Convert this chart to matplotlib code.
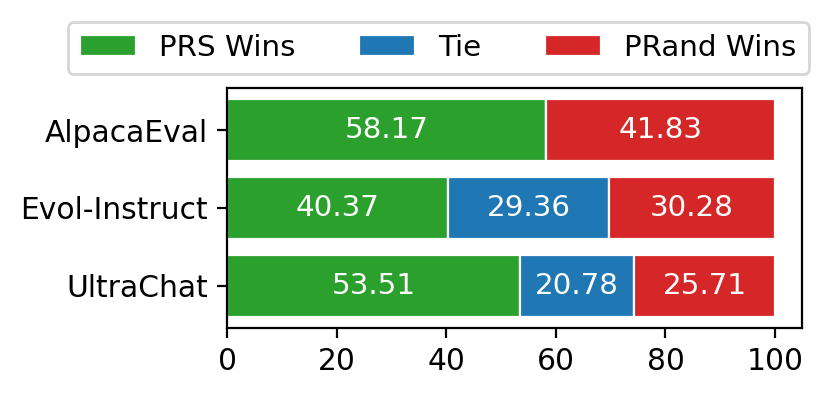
import matplotlib
matplotlib.use("Agg")
import matplotlib.pyplot as plt
import numpy as np

categories = ["UltraChat", "Evol-Instruct", "AlpacaEval"]
prs_wins = [53.51, 40.37, 58.17]
tie = [20.78, 29.36, 0.0]
prand_wins = [25.71, 30.28, 41.83]
xticks = [0, 20, 40, 60, 80, 100]

fig, ax = plt.subplots(figsize=(4.145, 1.995), dpi=200)
y = np.arange(len(categories))
left = np.zeros(len(categories))
series = [("PRS Wins", prs_wins, "#2ca02c"), ("Tie", tie, "#1f77b4"), ("PRand Wins", prand_wins, "#d62728")]
for name, vals, col in series:
    vals = np.array(vals)
    ax.barh(y, vals, left=left, color=col, edgecolor="white", linewidth=0.8, label=name, height=0.8)
    for yi, (l, v) in enumerate(zip(left, vals)):
        if v > 0:
            ax.text(l + v / 2, yi, f"{v:.2f}", ha="center", va="center", color="white", fontsize=10.6)
    left = left + vals

ax.set_yticks(y)
ax.set_yticklabels(categories, fontsize=10.7)
ax.set_xticks(xticks)
ax.tick_params(axis="x", labelsize=10.7)
ax.legend(loc="lower left", bbox_to_anchor=(-0.2765, 1.06, 1.287, 0.2), mode="expand",
          borderaxespad=0, ncol=3, fontsize=10.6, handlelength=1.9)
fig.subplots_adjust(left=0.274, right=0.968, top=0.7794, bottom=0.178)
fig.savefig("out.png", dpi=200)
